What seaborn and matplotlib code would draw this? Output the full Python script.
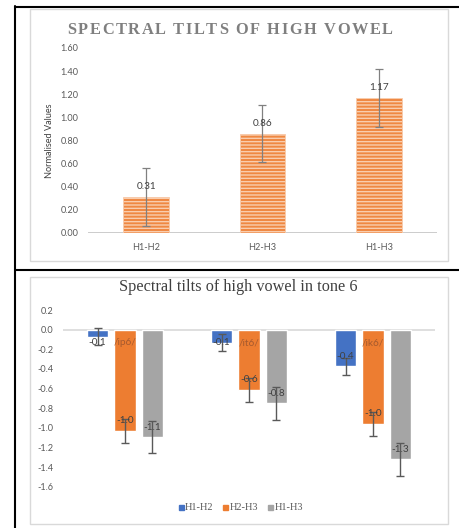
import matplotlib
matplotlib.use("Agg")
import matplotlib.pyplot as plt
from matplotlib.container import BarContainer
from matplotlib.font_manager import FontProperties
from matplotlib.lines import Line2D
from matplotlib.patches import Rectangle
from matplotlib.textpath import TextToPath
import numpy as np
import pandas as pd
import seaborn as sns

# Overall spectral tilts (normalised) with their error margins
tilt_measures = ["H1-H2", "H2-H3", "H1-H3"]
tilt_means = [0.31, 0.86, 1.17]
tilt_errors = [0.25, 0.25, 0.25]

# Tone 6 spectral tilts for each syllable
syllables = ["/ip6/", "/it6/", "/ik6/"]
h1h2_tone6 = [-0.07, -0.135, -0.375]
h2h3_tone6 = [-1.03, -0.615, -0.96]
h1h3_tone6 = [-1.095, -0.75, -1.32]
h1h2_err = [0.09, 0.087, 0.09]
h2h3_err = [0.12, 0.125, 0.125]
h1h3_err = [0.165, 0.17, 0.17]

top_title = "SPECTRAL TILTS OF HIGH VOWEL"
bottom_title = "Spectral tilts of high vowel in tone 6"
y_label = "Normalised Values"

BLUE, ORANGE, GREY = "#4472C4", "#ED7D31", "#A5A5A5"
TICK_GREY = "#595959"
LABEL_DARK = "#404040"

W, H, DPI = 460, 528, 100
sns.set_theme(style="white")
plt.rcParams["font.family"] = ["Lato", "DejaVu Sans"]
plt.rcParams["axes.unicode_minus"] = False
plt.rcParams["hatch.linewidth"] = 1.0

fig = plt.figure(figsize=(W / DPI, H / DPI), dpi=DPI)
fig.patch.set_facecolor("white")


def fx(x):
    return x / W


def fy(y):
    return 1 - y / H


def px_axes(x0, y0, x1, y1):
    return fig.add_axes([fx(x0), fy(y1), (x1 - x0) / W, (y1 - y0) / H])


def tracked_text(s, cx, cy, total_width, prop, **kw):
    """Draw a string centred at (cx, cy) px, letter-spaced to span total_width px."""
    t2p = TextToPath()
    widths = [t2p.get_text_width_height_descent(ch, prop, ismath=False)[0] * DPI / 72
              for ch in s]
    spacing = (total_width - sum(widths)) / (len(s) - 1)
    x = cx - total_width / 2
    for ch, w in zip(s, widths):
        fig.text(fx(x), fy(cy), ch, ha="left", va="center", fontproperties=prop, **kw)
        x += w + spacing


# Chart frames
for (x0, y0, x1, y1) in [(30, 9, 448, 260.5), (30, 277, 448, 524)]:
    fig.add_artist(Rectangle((fx(x0), fy(y1)), (x1 - x0) / W, (y1 - y0) / H,
                             transform=fig.transFigure, fill=False,
                             edgecolor="#D9D9D9", lw=1.0))
for (x0, y0, x1, y1) in [(15, 7, 460, 7), (15, 6, 15, 528), (15, 270.2, 460, 270.2)]:
    fig.add_artist(Line2D([fx(x0), fx(x1)], [fy(y0), fy(y1)],
                          transform=fig.transFigure, color="black", lw=1.5))

# ---------- Top chart: overall tilts ----------
ax1 = px_axes(88, 48, 437, 233)
df_top = pd.DataFrame({"measure": tilt_measures, "value": tilt_means})
sns.barplot(data=df_top, x="measure", y="value", order=tilt_measures,
            color="#EF8842", saturation=1, width=0.39, errorbar=None,
            hatch="-----", edgecolor="#F9CDAE", linewidth=0.6, ax=ax1)
ax1.axhline(0, color="#C4C4C4", lw=1.2, zorder=0.5)
for bar in list(ax1.patches):
    cx = bar.get_x() + bar.get_width() / 2
    v = bar.get_y() + bar.get_height()
    i = int(round(cx))
    ax1.errorbar(cx, v, yerr=tilt_errors[i], color="#808080", lw=0.9,
                 capsize=3, capthick=0.9, zorder=4)
    ax1.annotate(f"{v:.2f}", (cx, v), xytext=(0, 7.5), textcoords="offset points",
                 ha="center", va="center", fontsize=7.2, color=LABEL_DARK, zorder=5)
ax1.set_xlim(-0.5, len(tilt_measures) - 0.5)
ax1.set_ylim(0, 1.6)
ticks1 = np.round(np.linspace(0, 1.6, 9), 2)
ax1.set_yticks(ticks1, [f"{t:.2f}" for t in ticks1])
ax1.set_xlabel("")
ax1.set_ylabel(y_label, fontsize=6.6, color=LABEL_DARK, va="center")
ax1.yaxis.set_label_coords((50 - 88) / 349, 0.5)
ax1.tick_params(axis="both", length=0, labelsize=6.6, labelcolor=TICK_GREY)
ax1.tick_params(axis="y", pad=7)
ax1.tick_params(axis="x", pad=7)
for s in ax1.spines.values():
    s.set_visible(False)

title_prop = FontProperties(family=["Liberation Serif", "DejaVu Serif"],
                            weight="bold", size=11.8)
tracked_text(top_title, 230, 30, 326, title_prop, color="#7F7F7F")

# ---------- Bottom chart: tone 6 ----------
ax2 = px_axes(63, 310, 435, 486.7)
df_t6 = pd.DataFrame({
    "syllable": syllables * 3,
    "measure": np.repeat(tilt_measures, len(syllables)),
    "value": h1h2_tone6 + h2h3_tone6 + h1h3_tone6,
})
errs = [h1h2_err, h2h3_err, h1h3_err]
palette = [BLUE, ORANGE, GREY]
sns.barplot(data=df_t6, x="syllable", y="value", hue="measure",
            order=syllables, hue_order=tilt_measures, palette=palette,
            saturation=1, width=0.665, gap=0.22, errorbar=None,
            legend=False, ax=ax2)
ax2.axhline(0, color="#D9D9D9", lw=1.2, zorder=0.5)
bar_containers = [c for c in ax2.containers if isinstance(c, BarContainer)]
for hi, cont in enumerate(bar_containers):
    for bar in cont:
        cx = bar.get_x() + bar.get_width() / 2
        v = bar.get_y() + bar.get_height()
        j = int(round(cx))
        ax2.errorbar(cx, v, yerr=errs[hi][j], color="#595959", lw=1.0,
                     capsize=3, capthick=1.0, zorder=4)
        ax2.text(cx, min(v + 0.102, -0.13), f"{v:.1f}", ha="center", va="center",
                 fontsize=7.2, color=LABEL_DARK, zorder=5)
for j, name in enumerate(syllables):
    ax2.annotate(name, (j, 0), xytext=(0, -9.4), textcoords="offset points",
                 ha="center", va="center", fontsize=7.2, color="#A65A2E", zorder=5)
ax2.set_xlim(-0.5, len(syllables) - 0.5)
ax2.set_ylim(-1.6, 0.2)
ticks2 = [round(t, 1) + 0.0 for t in np.linspace(-1.6, 0.2, 10)]
ax2.set_yticks(ticks2, [f"{t:.1f}" for t in ticks2])
ax2.set_xlabel("")
ax2.set_ylabel("")
ax2.tick_params(axis="x", length=0, labelbottom=False)
ax2.tick_params(axis="y", length=0, labelsize=6.6, labelcolor=TICK_GREY, pad=7)
for s in ax2.spines.values():
    s.set_visible(False)

fig.text(fx(238), fy(287), bottom_title, ha="center", va="center",
         family=["Liberation Serif", "DejaVu Serif"], fontsize=11.7, color="#404040")

handles = [Line2D([], [], marker="s", ls="none", markersize=3.6,
                  markerfacecolor=c, markeredgecolor=c) for c in palette]
fig.legend(handles, tilt_measures, loc="center", bbox_to_anchor=(fx(240.5), fy(507.5)),
           ncol=3, frameon=False, prop={"family": ["Liberation Serif"], "size": 7.5},
           handlelength=0.5, handletextpad=0.15, columnspacing=0.9,
           labelcolor=TICK_GREY, borderpad=0)

fig.savefig("out.png", dpi=DPI, facecolor="white")
